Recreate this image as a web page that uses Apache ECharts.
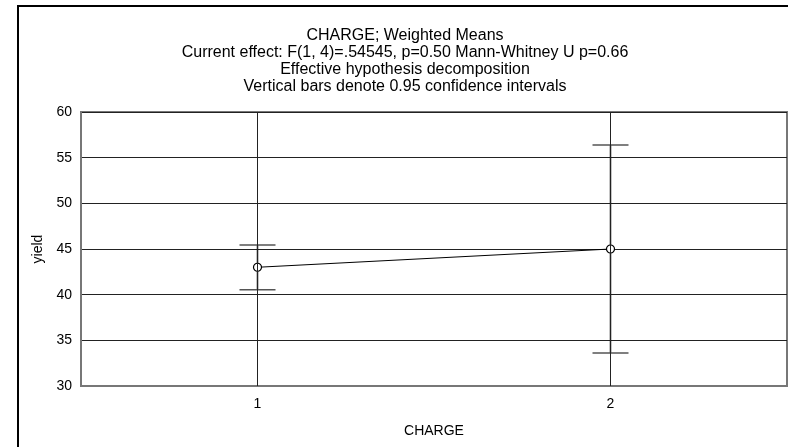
<!DOCTYPE html>
<html>
<head>
<meta charset="utf-8">
<script src="https://cdn.jsdelivr.net/npm/echarts@6/dist/echarts.min.js"></script>
<style>
  html, body { margin: 0; padding: 0; background: #fff; }
  #chart { width: 788px; height: 447px; }
</style>
</head>
<body>
<div id="chart"></div>
<script>
// data
var categories = ['1', '2'];
var means = [43.0, 45.0];
var ciLow = [40.55, 33.6];
var ciHigh = [45.45, 56.4];
var yTicks = [30, 35, 40, 45, 50, 55, 60];

var titleLines = [
  'CHARGE; Weighted Means',
  'Current effect: F(1, 4)=.54545, p=0.50 Mann-Whitney U p=0.66',
  'Effective hypothesis decomposition',
  'Vertical bars denote 0.95 confidence intervals'
];

var fontFamily = 'Liberation Sans, Arial, sans-serif';

var errData = [];
for (var i = 0; i < categories.length; i++) {
  errData.push([i, ciLow[i], ciHigh[i]]);
}

// vertical grid lines sit on the categories themselves
var catLines = categories.map(function (c) {
  return { xAxis: c };
});

var myChart = echarts.init(document.getElementById('chart'));
myChart.setOption({
  animation: false,
  backgroundColor: '#fff',
  title: {
    text: titleLines.join('\n'),
    left: 400,
    textAlign: 'center',
    top: 22,
    textStyle: {
      fontFamily: fontFamily,
      fontSize: 16,
      fontWeight: 'normal',
      color: '#000',
      lineHeight: 17
    }
  },
  graphic: [
    {
      // outer frame (left + top)
      type: 'polyline',
      shape: { points: [[18, 447], [18, 6], [788, 6]] },
      style: { stroke: '#000', lineWidth: 2, fill: null }
    }
  ],
  grid: {
    left: 81,
    right: 1,
    top: 112,
    bottom: 61,
    show: true,
    borderColor: '#777',
    borderWidth: 2
  },
  xAxis: {
    type: 'category',
    data: categories,
    boundaryGap: true,
    name: 'CHARGE',
    nameLocation: 'middle',
    nameGap: 38,
    nameTextStyle: { fontFamily: fontFamily, fontSize: 14, color: '#000' },
    axisLine: { show: true, lineStyle: { color: '#777', width: 2 } },
    axisTick: { show: false },
    axisLabel: { fontFamily: fontFamily, fontSize: 14, color: '#000', margin: 11 },
    splitLine: { show: false }
  },
  yAxis: {
    type: 'value',
    min: yTicks[0],
    max: yTicks[yTicks.length - 1],
    interval: 5,
    name: 'yield',
    nameLocation: 'middle',
    nameGap: 36,
    nameTextStyle: { fontFamily: fontFamily, fontSize: 14, color: '#000' },
    axisLine: { show: true, lineStyle: { color: '#777', width: 2 } },
    axisTick: { show: false },
    axisLabel: { fontFamily: fontFamily, fontSize: 14, color: '#000', margin: 9 },
    splitLine: { show: true, lineStyle: { color: '#222', width: 1 } }
  },
  series: [
    {
      type: 'custom',
      name: 'ci',
      z: 3,
      data: errData,
      renderItem: function (params, api) {
        var x = api.value(0);
        var lo = api.coord([x, api.value(1)]);
        var hi = api.coord([x, api.value(2)]);
        var half = 18;
        return {
          type: 'group',
          children: [
            {
              type: 'line',
              shape: { x1: lo[0], y1: lo[1], x2: hi[0], y2: hi[1] },
              style: { stroke: '#111', lineWidth: 1.5 }
            },
            {
              type: 'line',
              shape: { x1: lo[0] - half, y1: lo[1], x2: lo[0] + half, y2: lo[1] },
              style: { stroke: '#555', lineWidth: 1.5 }
            },
            {
              type: 'line',
              shape: { x1: hi[0] - half, y1: hi[1], x2: hi[0] + half, y2: hi[1] },
              style: { stroke: '#555', lineWidth: 1.5 }
            }
          ]
        };
      }
    },
    {
      type: 'line',
      name: 'mean',
      z: 4,
      data: means,
      symbol: 'circle',
      symbolSize: 8,
      showAllSymbol: true,
      lineStyle: { color: '#000', width: 1 },
      itemStyle: { color: '#fff', borderColor: '#000', borderWidth: 1.2 },
      markLine: {
        silent: true,
        symbol: ['none', 'none'],
        label: { show: false },
        lineStyle: { type: 'solid', color: '#222', width: 1 },
        data: catLines
      }
    }
  ]
});
</script>
</body>
</html>
